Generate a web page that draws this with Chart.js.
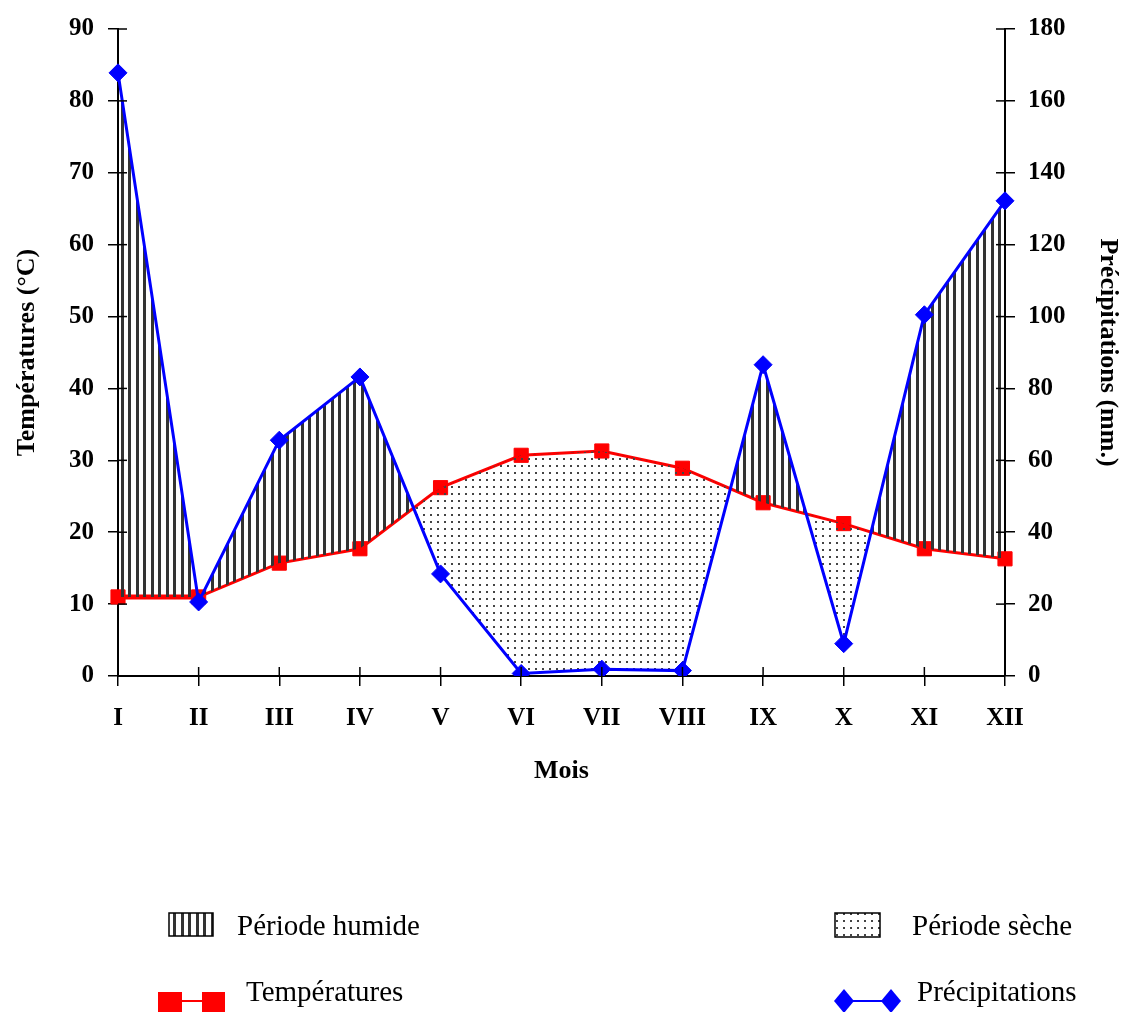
<!DOCTYPE html>
<html>
<head>
<meta charset="utf-8">
<script src="https://cdn.jsdelivr.net/npm/chart.js@4/dist/chart.umd.min.js"></script>
<style>
  html, body { margin: 0; padding: 0; background: #fff; }
  #wrap { position: relative; width: 1127px; height: 1012px; }
</style>
</head>
<body>
<div id="wrap"><canvas id="c" width="1127" height="1012"></canvas></div>
<script>
const months = ['I', 'II', 'III', 'IV', 'V', 'VI', 'VII', 'VIII', 'IX', 'X', 'XI', 'XII'];
const temperatures = [11.0, 11.0, 15.7, 17.7, 26.2, 30.7, 31.3, 28.9, 24.1, 21.2, 17.7, 16.3];
const precipitations = [167.8, 20.6, 65.6, 83.2, 28.4, 0.7, 1.9, 1.5, 86.6, 9.0, 100.5, 132.2];
const tempTitle = 'Températures (°C)';
const precTitle = 'Précipitations (mm.)';
const xTitle = 'Mois';
const legendLabels = ['Période humide', 'Période sèche', 'Températures', 'Précipitations'];

const BOLD = 'Liberation Serif';

function makeHatch() {
  const c = document.createElement('canvas');
  c.width = 15; c.height = 15;
  const g = c.getContext('2d');
  g.fillStyle = '#333';
  g.fillRect(1, 0, 3, 15);
  g.fillRect(8, 0, 3, 15);
  return g.createPattern(c, 'repeat');
}
function makeDots() {
  const c = document.createElement('canvas');
  c.width = 7; c.height = 7;
  const g = c.getContext('2d');
  g.fillStyle = '#444';
  g.fillRect(3, 3, 2, 2);
  return g.createPattern(c, 'repeat');
}
const hatch = makeHatch();
const dots = makeDots();

const innerTicks = {
  id: 'innerTicks',
  afterDraw(chart) {
    const ctx = chart.ctx;
    ctx.save();
    ctx.strokeStyle = '#000';
    ctx.lineWidth = 1.5;
    const y = chart.scales.y, y2 = chart.scales.y2, x = chart.scales.x;
    y.ticks.forEach((t, i) => {
      const p = y.getPixelForTick(i);
      ctx.beginPath(); ctx.moveTo(y.right, p); ctx.lineTo(y.right + 9, p); ctx.stroke();
    });
    y2.ticks.forEach((t, i) => {
      const p = y2.getPixelForTick(i);
      ctx.beginPath(); ctx.moveTo(y2.left, p); ctx.lineTo(y2.left - 9, p); ctx.stroke();
    });
    x.ticks.forEach((t, i) => {
      const p = x.getPixelForTick(i);
      ctx.beginPath(); ctx.moveTo(p, x.top); ctx.lineTo(p, x.top - 9); ctx.stroke();
    });
    ctx.restore();
  }
};

const customLegend = {
  id: 'customLegend',
  afterDraw(chart) {
    const ctx = chart.ctx;
    ctx.save();
    ctx.font = '29px "Liberation Serif"';
    ctx.fillStyle = '#000';
    ctx.textBaseline = 'alphabetic';
    ctx.textAlign = 'left';
    // humid swatch
    ctx.fillStyle = hatch;
    ctx.fillRect(169, 913, 44, 23);
    ctx.strokeStyle = '#000'; ctx.lineWidth = 1.5;
    ctx.strokeRect(169, 913, 44, 23);
    // dry swatch
    ctx.fillStyle = dots;
    ctx.fillRect(835, 913, 45, 24);
    ctx.strokeRect(835, 913, 45, 24);
    ctx.fillStyle = '#000';
    ctx.fillText(legendLabels[0], 237, 935);
    ctx.fillText(legendLabels[1], 912, 935);
    ctx.fillText(legendLabels[2], 246, 1001);
    ctx.fillText(legendLabels[3], 917, 1001);
    // temperature symbol
    ctx.strokeStyle = '#ff0000'; ctx.lineWidth = 2;
    ctx.beginPath(); ctx.moveTo(170, 1001); ctx.lineTo(214, 1001); ctx.stroke();
    ctx.fillStyle = '#ff0000';
    ctx.fillRect(158, 992, 24, 22);
    ctx.fillRect(202, 992, 23, 22);
    // precipitation symbol
    ctx.strokeStyle = '#0000ff';
    ctx.beginPath(); ctx.moveTo(844, 1001); ctx.lineTo(891, 1001); ctx.stroke();
    ctx.fillStyle = '#0000ff';
    [844, 891].forEach(cx => {
      ctx.beginPath();
      ctx.moveTo(cx, 989); ctx.lineTo(cx + 10, 1001); ctx.lineTo(cx, 1013); ctx.lineTo(cx - 10, 1001);
      ctx.closePath(); ctx.fill();
    });
    ctx.restore();
  }
};

const tickFont = { family: BOLD, size: 25, weight: 'bold' };
const titleFont = { family: BOLD, size: 26, weight: 'bold' };

new Chart(document.getElementById('c'), {
  type: 'line',
  data: {
    labels: months,
    datasets: [
      {
        label: legendLabels[3],
        data: precipitations,
        yAxisID: 'y2',
        borderColor: '#0000ff',
        backgroundColor: '#0000ff',
        borderWidth: 3,
        pointStyle: 'rectRot',
        pointRadius: 9,
        pointBorderWidth: 1,
        pointBorderColor: '#0000ff',
        pointBackgroundColor: '#0000ff',
        tension: 0,
        fill: { target: 1, above: hatch, below: dots }
      },
      {
        label: legendLabels[2],
        data: temperatures,
        yAxisID: 'y',
        borderColor: '#ff0000',
        backgroundColor: '#ff0000',
        borderWidth: 3,
        segment: { borderWidth: c => c.p0DataIndex === 0 ? 5 : 3 },
        pointStyle: 'rect',
        pointRadius: 10,
        pointBorderWidth: 1,
        pointBorderColor: '#ff0000',
        pointBackgroundColor: '#ff0000',
        tension: 0,
        fill: false
      }
    ]
  },
  options: {
    responsive: false,
    animation: false,
    events: [],
    layout: { padding: { top: 26, bottom: 212, left: 0, right: 0 } },
    plugins: { legend: { display: false }, tooltip: { enabled: false } },
    scales: {
      x: {
        type: 'category',
        offset: false,
        grid: { display: true, drawOnChartArea: false, drawTicks: true, tickLength: 10, color: '#000', lineWidth: 1.5, offset: false },
        border: { display: true, color: '#000', width: 2 },
        ticks: { color: '#000', font: tickFont, padding: 18, maxRotation: 0, autoSkip: false },
        title: { display: true, text: xTitle, color: '#000', font: titleFont, padding: { top: 0, bottom: 13 } },
        afterFit(s) { s.height = 124; }
      },
      y: {
        position: 'left',
        min: 0, max: 90,
        ticks: { stepSize: 10, color: '#000', font: tickFont, padding: 14 },
        grid: { display: true, drawOnChartArea: false, drawTicks: true, tickLength: 10, color: '#000', lineWidth: 1.5 },
        border: { display: true, color: '#000', width: 2 },
        title: { display: true, text: tempTitle, color: '#000', font: titleFont, padding: { top: 12, bottom: 0 } },
        afterFit(s) { s.width = 118; }
      },
      y2: {
        position: 'right',
        min: 0, max: 180,
        ticks: { stepSize: 20, color: '#000', font: tickFont, padding: 13 },
        grid: { display: true, drawOnChartArea: false, drawTicks: true, tickLength: 10, color: '#000', lineWidth: 1.5 },
        border: { display: true, color: '#000', width: 2 },
        title: { display: true, text: precTitle, color: '#000', font: titleFont, padding: { top: 4, bottom: 0 } },
        afterFit(s) { s.width = 122; }
      }
    }
  },
  plugins: [innerTicks, customLegend]
});
</script>
</body>
</html>
